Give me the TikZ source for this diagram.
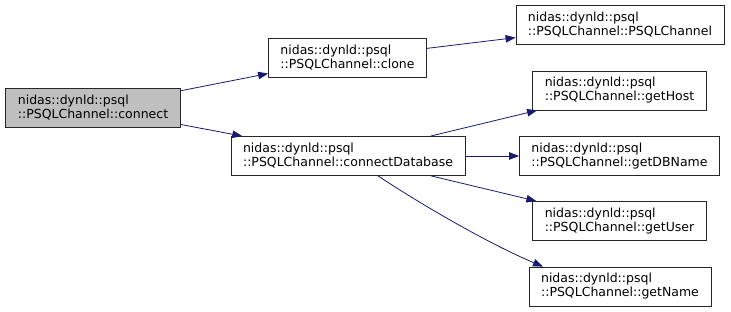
\documentclass[tikz,border=0pt]{standalone}
\usepackage{fontspec}
\setmainfont{DejaVu Sans}
\usepackage{tikz}
\usetikzlibrary{arrows.meta,positioning}
\definecolor{CallBlue}{HTML}{191970}
\definecolor{CurGray}{HTML}{BFBFBF}

\begin{document}
\begin{tikzpicture}[x=1pt,y=-1pt,>={Triangle[length=10pt,width=7.5pt]},
    fn/.style={draw=black!85,line width=0.8pt,fill=white,align=left,
      inner xsep=12pt,minimum height=39pt,
      font=\fontsize{12.5}{14}\selectfont},
    call/.style={->,CallBlue,line width=0.8pt}]
  \useasboundingbox (0,0) rectangle (731,312);
  % caller and the two direct callees
  \node[fn,fill=CurGray] (connect) at (93,108) {nidas::dynld::psql\\::PSQLChannel::connect};
  \node[fn] (clone) at (347.5,58) {nidas::dynld::psql\\::PSQLChannel::clone};
  \node[fn] (cdb) at (348,156) {nidas::dynld::psql\\::PSQLChannel::connectDatabase};
  % leaves
  \node[fn] (ctor) at (620,25) {nidas::dynld::psql\\::PSQLChannel::PSQLChannel};
  \node[fn] (host) at (619.5,90.5) {nidas::dynld::psql\\::PSQLChannel::getHost};
  \node[fn] (dbname) at (619.5,156) {nidas::dynld::psql\\::PSQLChannel::getDBName};
  \node[fn] (user) at (619.5,221) {nidas::dynld::psql\\::PSQLChannel::getUser};
  \node[fn] (name) at (620,286.5) {nidas::dynld::psql\\::PSQLChannel::getName};

  \draw[call] (connect) -- (clone);
  \draw[call] (connect) -- (cdb);
  \draw[call] (clone) -- (ctor);
  \draw[call] (cdb) -- (host);
  \draw[call] (cdb) -- (dbname);
  \draw[call] (cdb) -- (user);
  \draw[call] ([xshift=30pt]cdb.south) .. controls +(50,33) and +(-50,-21) .. ([xshift=-77pt]name.north);
\end{tikzpicture}
\end{document}
